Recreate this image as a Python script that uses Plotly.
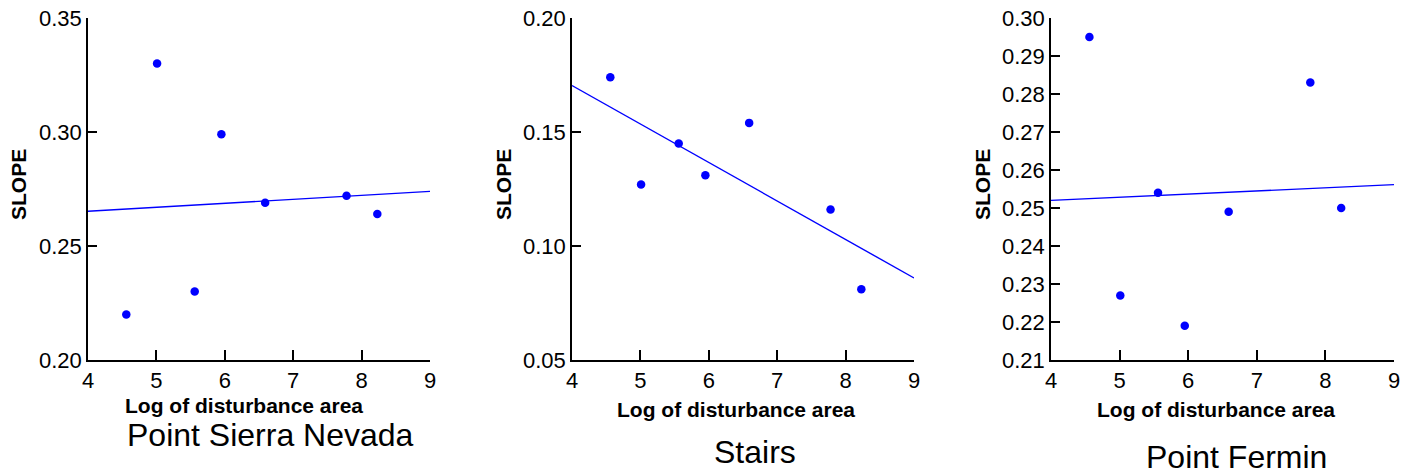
import numpy as np
import plotly.graph_objects as go

W, H = 1414, 474

# Data
log_area = [4.56, 5.01, 5.56, 5.95, 6.59, 7.78, 8.23]
slope_sierra = [0.220, 0.330, 0.230, 0.299, 0.269, 0.272, 0.264]
slope_stairs = [0.174, 0.127, 0.145, 0.131, 0.154, 0.116, 0.081]
slope_fermin = [0.295, 0.227, 0.254, 0.219, 0.249, 0.283, 0.250]
site_names = ["Point Sierra Nevada", "Stairs", "Point Fermin"]
y_ranges = [[0.20, 0.35], [0.05, 0.20], [0.21, 0.30]]
y_dticks = [0.05, 0.05, 0.01]
x_range = [4, 9]
x_title = "Log of disturbance area"
y_title = "SLOPE"

series = [slope_sierra, slope_stairs, slope_fermin]

# page-pixel layout of plot areas (left, right), top, bottom
px_x = [(88, 430), (572, 914), (1051, 1394)]
px_top, px_bot = 18, 360
ytitle_x = [18, 503, 982]
xtitle_pos = [(244, 405), (736, 409), (1216, 409)]
site_pos = [(270, 435), (755, 452), (1236, 457)]


def fx(px):
    return px / W


def fy(py):
    return 1 - py / H


FONT = "Liberation Sans, Arial, sans-serif"
BLUE = "#0000ff"

fig = go.Figure()
annotations = []
for i, ys in enumerate(series):
    xa = "x" if i == 0 else f"x{i+1}"
    ya = "y" if i == 0 else f"y{i+1}"
    fig.add_trace(go.Scatter(x=log_area, y=ys, mode="markers",
                             marker=dict(color=BLUE, size=8.5),
                             xaxis=xa, yaxis=ya, showlegend=False,
                             cliponaxis=False))
    coef = np.polyfit(log_area, ys, 1)
    lx = np.array(x_range, dtype=float)
    fig.add_trace(go.Scatter(x=lx, y=np.polyval(coef, lx), mode="lines",
                             line=dict(color=BLUE, width=1.4),
                             xaxis=xa, yaxis=ya, showlegend=False))
    l, r = px_x[i]
    lo, hi = y_ranges[i]
    n = int(round((hi - lo) / y_dticks[i]))
    tickvals = [round(lo + k * y_dticks[i], 4) for k in range(n + 1)]
    axx = dict(domain=[fx(l), fx(r)], range=x_range, dtick=1, tick0=4,
               showgrid=False, zeroline=False, showline=True,
               linecolor="black", linewidth=2, ticks="inside", ticklen=10,
               tickwidth=1.5, tickcolor="black", automargin=False,
               ticklabeloverflow="allow",
               tickfont=dict(family=FONT, size=22, color="black"),
               anchor=ya, fixedrange=True)
    axy = dict(domain=[fy(px_bot), fy(px_top)], range=[lo, hi],
               tickmode="array", tickvals=tickvals,
               ticktext=[f"{v:.2f}" for v in tickvals],
               showgrid=False, zeroline=False, showline=True,
               linecolor="black", linewidth=1.5, ticks="inside", ticklen=9,
               tickwidth=1.5, tickcolor="black", automargin=False,
               ticklabeloverflow="allow",
               tickfont=dict(family=FONT, size=22, color="black"),
               anchor=xa, fixedrange=True)
    key = "" if i == 0 else str(i + 1)
    fig.update_layout(**{f"xaxis{key}": axx, f"yaxis{key}": axy})

    annotations.append(dict(text=f"<b>{y_title}</b>", x=fx(ytitle_x[i]), y=fy(185),
                            xref="paper", yref="paper", showarrow=False,
                            textangle=-90, xanchor="center", yanchor="middle",
                            font=dict(family=FONT, size=21, color="black")))
    annotations.append(dict(text=f"<b>{x_title}</b>", x=fx(xtitle_pos[i][0]),
                            y=fy(xtitle_pos[i][1]),
                            xref="paper", yref="paper", showarrow=False,
                            xanchor="center", yanchor="middle",
                            font=dict(family=FONT, size=21, color="black")))
    annotations.append(dict(text=site_names[i], x=fx(site_pos[i][0]),
                            y=fy(site_pos[i][1]),
                            xref="paper", yref="paper", showarrow=False,
                            xanchor="center", yanchor="middle",
                            font=dict(family=FONT, size=32, color="black")))

fig.update_layout(template="none", width=W, height=H,
                  margin=dict(l=0, r=0, t=0, b=0, autoexpand=False),
                  paper_bgcolor="white", plot_bgcolor="white",
                  annotations=annotations, showlegend=False)

fig.write_html("out.html", config={"displayModeBar": False},
               post_script="document.body.style.margin='0px';"
                           "document.body.style.overflow='hidden';")
